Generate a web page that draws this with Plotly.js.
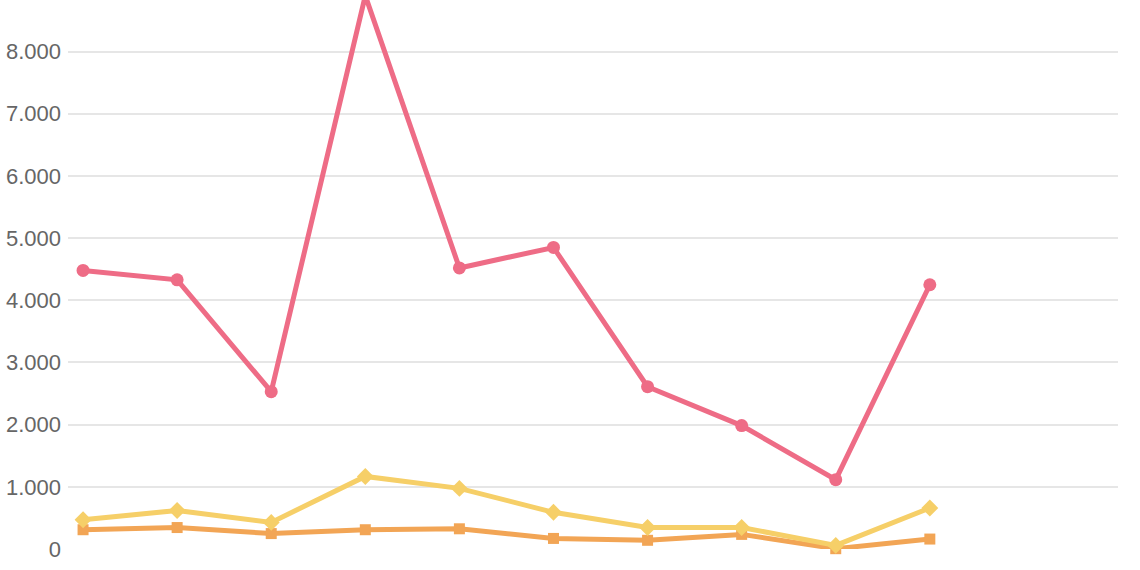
<!DOCTYPE html>
<html>
<head>
<meta charset="utf-8">
<script src="https://cdn.plot.ly/plotly-3.0.1.min.js"></script>
<style>html,body{margin:0;padding:0;background:#fff;}#chart{width:1140px;height:570px;}</style>
</head>
<body>
<div id="chart"></div>
<script>
const categories = ['1','2','3','4','5','6','7','8','9','10','11','12'];
const seriesPink = [4480, 4330, 2530, 8900, 4520, 4850, 2610, 1985, 1115, 4250];
const seriesYellow = [471, 620, 428, 1167, 975, 590, 347, 345, 58, 659];
const seriesOrange = [310, 345, 248, 310, 325, 170, 140, 235, 5, 160];
const yTicks = [0, 1000, 2000, 3000, 4000, 5000, 6000, 7000, 8000];

function mk(vals, color, symbol, size) {
  return {
    x: categories.slice(0, vals.length),
    y: vals,
    type: 'scatter',
    mode: 'lines+markers',
    line: {color: color, width: 5},
    marker: {color: color, symbol: symbol, size: size},
    cliponaxis: false,
    hoverinfo: 'none'
  };
}

const data = [
  mk(seriesOrange, '#f2a555', 'square', 11),
  mk(seriesYellow, '#f6cf68', 'diamond', 13),
  mk(seriesPink, '#ee6c86', 'circle', 13)
];

const layout = {
  width: 1140, height: 570,
  margin: {l: 68, r: 22, t: 0, b: 21},
  paper_bgcolor: '#fff', plot_bgcolor: '#fff',
  showlegend: false,
  separators: ',.',
  font: {family: '"Liberation Sans", Arial, sans-serif', color: '#666'},
  xaxis: {
    type: 'category',
    categoryorder: 'array', categoryarray: categories,
    range: [-0.16, 11],
    showticklabels: false, showgrid: false, zeroline: false, showline: false, ticks: ''
  },
  yaxis: {
    range: [0, 8830],
    tickvals: yTicks,
    tickformat: ',d',
    tickfont: {size: 22, color: '#666'},
    gridcolor: '#e6e6e6', gridwidth: 2,
    zeroline: false, showline: false, ticks: '',
    ticklabelstandoff: 6
  }
};

Plotly.newPlot('chart', data, layout, {staticPlot: true});
</script>
</body>
</html>
